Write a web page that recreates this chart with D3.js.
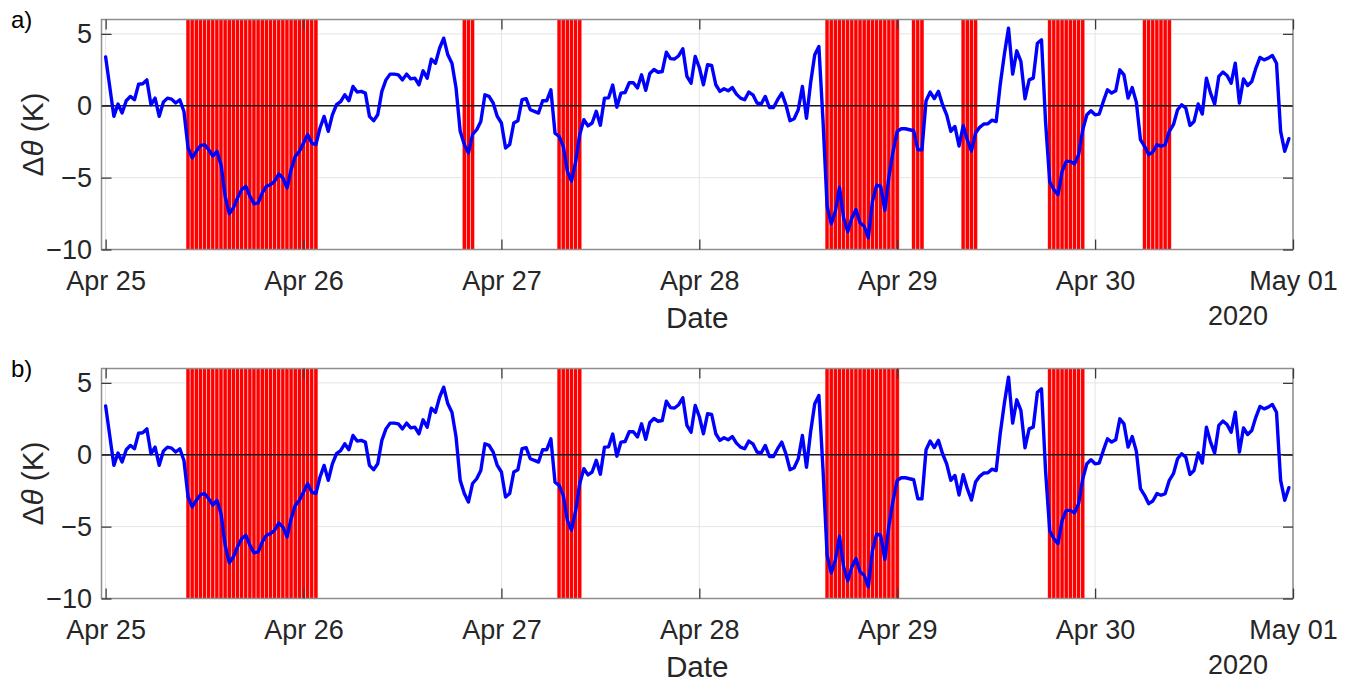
<!DOCTYPE html>
<html>
<head>
<meta charset="utf-8">
<script src="https://cdn.jsdelivr.net/npm/d3@7"></script>
<style>
  html, body { margin: 0; padding: 0; background: #fff; }
  svg { display: block; font-family: "Liberation Sans", Arial, Helvetica, sans-serif; }
</style>
</head>
<body>
<div id="chart"></div>
<script>
// hours after 25 Apr 2020 00:00 and potential temperature anomaly (K)
const hours = [
  0, 1, 1.5, 2, 2.5, 3, 3.5, 4, 4.5, 5, 5.5, 6, 6.5, 7, 7.5, 8, 8.5, 9, 9.5,
  10, 10.5, 11, 11.5, 12, 12.5, 13, 13.5, 14, 14.5, 15, 15.5, 16, 16.5, 17, 17.5,
  18, 18.5, 19, 19.5, 20, 20.5, 21, 21.5, 22, 22.5, 23, 23.5, 24, 24.5, 25, 25.5,
  26, 26.5, 27, 27.5, 28, 28.5, 29, 29.5, 30, 30.5, 31, 31.5, 32, 32.5, 33, 33.5,
  34, 34.5, 35, 35.5, 36, 36.5, 37, 37.5, 38, 38.5, 39, 39.5, 40, 40.5, 41, 41.5,
  42, 42.5, 43, 43.5, 44, 44.5, 45, 45.5, 46, 46.5, 47, 47.5, 48, 48.5, 49, 49.5,
  50, 50.5, 51, 51.5, 52, 52.5, 53, 53.5, 54, 54.5, 55, 55.5, 56, 56.5, 57, 57.5,
  58, 58.5, 59, 59.5, 60, 60.5, 61, 61.5, 62, 62.5, 63, 63.5, 64, 64.5, 65, 65.5,
  66, 66.5, 67, 67.5, 68, 68.5, 69, 69.5, 70, 70.5, 71, 71.5, 72, 72.5, 73, 73.5,
  74, 74.5, 75, 75.5, 76, 76.5, 77, 77.5, 78, 78.5, 79, 79.5, 80, 80.5, 81, 81.5,
  82, 82.5, 83, 83.5, 84, 84.5, 85, 85.5, 86, 86.5, 87, 87.5, 88, 88.5, 89, 89.5,
  90, 90.5, 91, 91.5, 92, 92.5, 93, 93.5, 94, 94.5, 95, 95.5, 96, 96.5, 97, 97.5,
  98, 98.5, 99, 99.5, 100, 100.5, 101, 101.5, 102, 102.5, 103, 103.5, 104, 104.5,
  105, 105.5, 106, 106.5, 107, 107.5, 108, 108.5, 109, 109.5, 110, 110.5, 111,
  111.5, 112, 112.5, 113, 113.5, 114, 114.5, 115, 115.5, 116, 116.5, 117, 117.5,
  118, 118.5, 119, 119.5, 120, 120.5, 121, 121.5, 122, 122.5, 123, 123.5, 124,
  124.5, 125, 125.5, 126, 126.5, 127, 127.5, 128, 128.5, 129, 129.5, 130, 130.5,
  131, 131.5, 132, 132.5, 133, 133.5, 134, 134.5, 135, 135.5, 136, 136.5, 137,
  137.5, 138, 138.5, 139, 139.5, 140, 140.5, 141, 141.5, 142, 142.5, 143, 143.5
];
const dtheta = [
  3.4, -0.74, 0.12, -0.5, 0.35, 0.65, 0.42, 1.5, 1.53, 1.8, 0.07, 0.53, -0.74, 0.25, 0.53, 0.46, 0.19, 0.42, -0.4,
  -2.94, -3.63, -3.17, -2.78, -2.7, -3.05, -3.5, -3.17, -4.1, -6.3, -7.52, -7.1, -6.4, -5.83, -5.6, -6.3,
  -6.83, -6.76, -6.06, -5.6, -5.49, -5.25, -4.75, -5.02, -5.72, -4.44, -3.52, -3.17, -2.6, -2.0, -2.6, -2.7,
  -1.55, -0.74, -1.78, -0.63, 0.07, 0.28, 0.76, 0.35, 1.34, 0.95, 1.0, 0.88, -0.74, -1.04, -0.63, 1.0,
  1.8, 2.2, 2.2, 2.15, 1.8, 2.2, 1.87, 1.92, 1.46, 2.43, 1.92, 3.24, 2.96, 4.0, 4.7, 3.54,
  2.96, 1.23, -1.78, -2.7, -3.29, -2.0, -1.67, -1.09, 0.76, 0.65, 0.19, -0.74, -1.2, -2.94, -2.7, -1.2,
  -1.04, 0.42, 0.49, -0.28, -0.39, -0.51, 0.35, 0.35, 1.11, -1.9, -2.13, -2.82, -4.56, -5.25, -3.9, -2.0,
  -0.97, -1.4, -1.2, -0.39, -1.35, 0.53, 0.55, 1.44, -0.1, 0.88, 0.92, 1.6, 1.6, 1.24, 2.15, 1.07,
  2.25, 2.52, 2.33, 2.38, 3.72, 3.28, 3.25, 3.48, 3.96, 2.04, 1.57, 3.43, 2.66, 1.46, 2.85, 2.8,
  1.46, 1.0, 1.18, 1.04, 1.27, 0.81, 0.53, 0.42, 0.95, 0.76, 0.19, 0.12, 0.65, -0.12, -0.12, 0.42,
  0.88, 0.07, -1.04, -0.9, -0.28, 1.34, -0.88, 1.6, 3.54, 4.12, -1.0, -7.0, -8.22, -7.34, -5.67, -7.8,
  -8.77, -7.8, -7.22, -8.15, -8.38, -9.19, -6.64, -5.53, -5.6, -7.29, -4.91, -3.17, -1.78, -1.6, -1.6, -1.67,
  -1.74, -3.06, -3.06, 0.35, 0.95, 0.5, 1.0, 0.07, -0.63, -1.78, -1.44, -2.8, -1.39, -2.36,
  -3.15, -1.9, -1.5, -1.27, -1.25, -1.0, -1.1, 1.5, 3.6, 5.4, 2.2, 3.82, 3.08,
  0.49, 1.8, 1.92, 4.35, 4.58, -1.2, -5.3, -5.83, -6.18, -4.56, -3.87, -3.87, -4.05,
  -3.4, -1.67, -0.63, -0.35, -0.63, -0.58, 0.3, 1.11, 0.88, 1.04, 2.5, 2.15, 0.53,
  1.27, 0.25, -2.36, -2.82, -3.4, -3.22, -2.7, -2.82, -2.7, -1.78, -1.32, -0.28, 0.07,
  -0.16, -1.37, -1.09, 0.12, -0.58, 1.92, 0.88, 0.12, 2.04, 2.34, 2.1, 1.57, 2.96,
  0.19, 1.87, 1.41, 1.69, 2.62, 3.36, 3.19, 3.31, 3.5, 2.96, -1.78, -3.17, -2.29
];

// flagged periods: [first, last] half-hourly sample, in hours after 25 Apr 00:00
const bandsA = [[10, 25.5], [43.5, 44.5], [55, 57.5], [87.5, 96], [98, 99],
                [104, 105.5], [114.5, 118.5], [126, 129]];
const bandsB = [[10, 25.5], [55, 57.5], [87.5, 96], [114.5, 118.5]];

const dayTicks = ['2020-04-25', '2020-04-26', '2020-04-27', '2020-04-28',
                  '2020-04-29', '2020-04-30', '2020-05-01'];
const yTicks = [-10, -5, 0, 5];
const panelLabels = ['a)', 'b)'];

const t0 = new Date(2020, 3, 25);
const toDate = h => new Date(+t0 + h * 3600e3);
const parseDay = d3.timeParse('%Y-%m-%d');
const days = dayTicks.map(parseDay);
const series = hours.map((h, i) => [toDate(h), dtheta[i]]);

const W = 1351, H = 681;
const left = 101.5, right = 1293, plotH = 230;
const font = '"Liberation Sans", Arial, Helvetica, sans-serif';
const ink = '#262626';

const svg = d3.select('#chart').append('svg')
              .attr('width', W)
              .attr('height', H);

const x = d3.scaleTime()
            .domain([toDate(-0.5), toDate(144)])
            .range([left, right]);

const y = d3.scaleLinear()
            .domain([-10, 6])
            .range([plotH, 0]);

function drawPanel(top, bands, label) {
  const g = svg.append('g').attr('transform', `translate(0, ${top})`);

  // grid
  g.append('g').selectAll('line').data(days).join('line')
   .attr('x1', d => x(d)).attr('x2', d => x(d))
   .attr('y1', 0).attr('y2', plotH)
   .attr('stroke', '#e4e4e4').attr('stroke-width', 1);
  g.append('g').selectAll('line').data(yTicks).join('line')
   .attr('x1', left).attr('x2', right)
   .attr('y1', d => y(d)).attr('y2', d => y(d))
   .attr('stroke', '#e4e4e4').attr('stroke-width', 1);

  // flagged samples, one bar per half hour
  const samples = bands.flatMap(([a, b]) => d3.range(a, b + 0.25, 0.5));
  g.append('g').selectAll('rect').data(samples).join('rect')
   .attr('x', h => x(toDate(h - 0.25)))
   .attr('width', h => x(toDate(h + 0.25)) - x(toDate(h - 0.25)))
   .attr('y', y(6))
   .attr('height', y(-10) - y(6))
   .attr('fill', '#ff0000')
   .attr('stroke', '#ffffff')
   .attr('stroke-opacity', 0.7)
   .attr('stroke-width', 0.7);

  // zero line
  g.append('line')
   .attr('x1', left).attr('x2', right)
   .attr('y1', y(0)).attr('y2', y(0))
   .attr('stroke', '#1a1a1a').attr('stroke-width', 1.4);

  const line = d3.line()
                 .x(d => x(d[0]))
                 .y(d => y(d[1]));

  g.append('path')
   .datum(series)
   .attr('d', line)
   .attr('fill', 'none')
   .attr('stroke', '#0000ff')
   .attr('stroke-width', 3.4)
   .attr('stroke-linejoin', 'round')
   .attr('stroke-linecap', 'round');

  // box
  g.append('rect')
   .attr('x', left).attr('y', 0)
   .attr('width', right - left).attr('height', plotH)
   .attr('fill', 'none')
   .attr('stroke', '#8e8e8e').attr('stroke-width', 1.5);

  // axes with inward ticks
  const fmt = d3.timeFormat('%b %d');
  const styleAxis = sel => {
    sel.attr('font-family', font).attr('font-size', 27).attr('color', ink);
    sel.select('.domain').remove();
    sel.selectAll('.tick line').attr('stroke-width', 1.3).attr('stroke', '#3a3a3a');
    sel.selectAll('.tick text').attr('fill', ink);
  };

  g.append('g')
   .attr('transform', `translate(0, ${plotH})`)
   .call(d3.axisBottom(x).tickValues(days).tickFormat(fmt)
           .tickSizeInner(-10).tickSizeOuter(0).tickPadding(21.5))
   .call(styleAxis);

  g.append('g')
   .call(d3.axisTop(x).tickValues(days).tickFormat('')
           .tickSizeInner(-10).tickSizeOuter(0))
   .call(styleAxis);

  g.append('g')
   .attr('transform', `translate(${left}, 0)`)
   .call(d3.axisLeft(y).tickValues(yTicks).tickFormat(d3.format('d'))
           .tickSizeInner(-10).tickSizeOuter(0).tickPadding(9.5))
   .call(styleAxis);

  g.append('g')
   .attr('transform', `translate(${right}, 0)`)
   .call(d3.axisRight(y).tickValues(yTicks).tickFormat('')
           .tickSizeInner(-10).tickSizeOuter(0))
   .call(styleAxis);

  // labels
  g.append('text')
   .attr('x', (left + right) / 2).attr('y', plotH + 78)
   .attr('text-anchor', 'middle')
   .attr('font-size', 29.7).attr('fill', ink)
   .text('Date');

  g.append('text')
   .attr('x', x(days[days.length - 1]) - 25).attr('y', plotH + 75.5)
   .attr('text-anchor', 'end')
   .attr('font-size', 27).attr('fill', ink)
   .text('2020');

  const yl = g.append('text')
              .attr('transform', `translate(43, ${plotH / 2}) rotate(-90)`)
              .attr('text-anchor', 'middle')
              .attr('font-size', 29.7).attr('fill', ink);
  yl.append('tspan').text('\u0394');
  yl.append('tspan').attr('font-style', 'italic').text('\u03b8');
  yl.append('tspan').text(' (K)');

  g.append('text')
   .attr('x', 11).attr('y', 8)
   .attr('font-size', 24).attr('fill', '#000')
   .text(label);
}

drawPanel(19.5, bandsA, panelLabels[0]);
drawPanel(368.5, bandsB, panelLabels[1]);
</script>
</body>
</html>
